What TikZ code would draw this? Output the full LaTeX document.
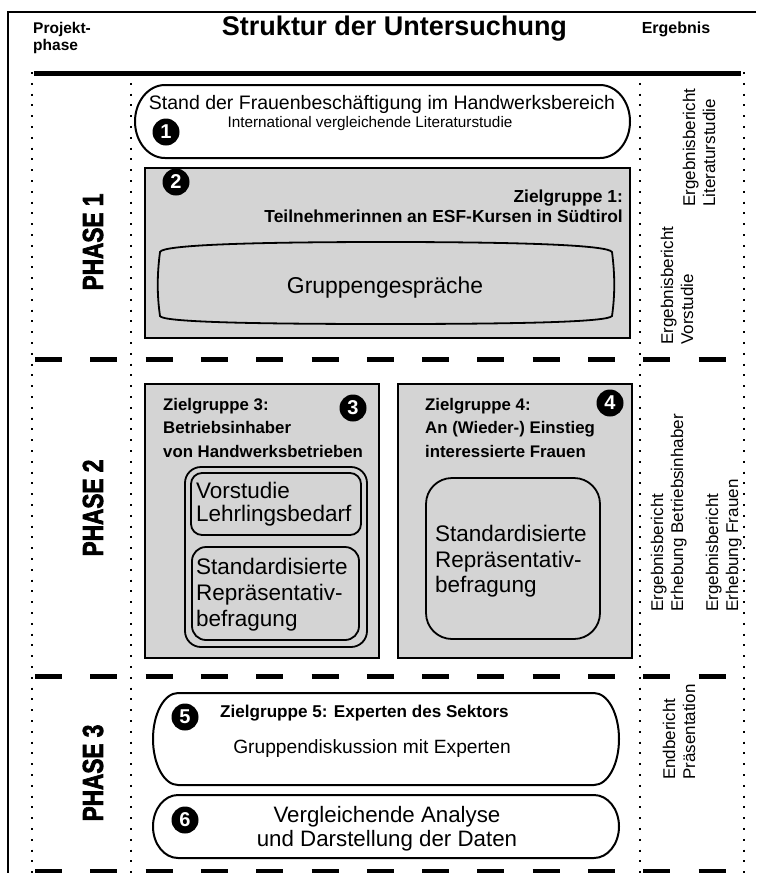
\documentclass[tikz,border=0pt]{standalone}
\usepackage{fontspec}
\setmainfont{Liberation Sans}
\newfontfamily\phasefont{Liberation Sans}[FakeStretch=0.78,FakeBold=2.2]
\newcommand\fsz[2]{\fontsize{#1}{#2}\selectfont}
\begin{document}
\begin{tikzpicture}[x=1pt,y=-1pt,
  frameline/.style={line width=2.5pt},
  dotline/.style={line width=2pt, dash pattern=on 2pt off 8.8pt},
  dashline/.style={line width=5pt, dash pattern=on 27pt off 28.3pt},
  graybox/.style={draw, line width=2pt, fill=black!17},
  whitebox/.style={draw, line width=2pt, fill=white},
  inbox/.style={draw, line width=1.8pt},
  num/.style={circle, fill=black, text=white, minimum size=27pt, inner sep=0pt, font=\bfseries\fsz{20}{20}},
  lbl/.style={inner sep=0pt, anchor=base},
  lblw/.style={inner sep=0pt, anchor=base west},
  lble/.style={inner sep=0pt, anchor=base east},
  rot/.style={inner sep=0pt, rotate=90, anchor=base west, font=\fsz{17}{20}},
  phaselbl/.style={inner sep=0pt, rotate=90, font=\phasefont\bfseries\fsz{29}{29}}
]
\useasboundingbox (0,0) rectangle (756,873);
\fill[white] (0,0) rectangle (756,873);

% frame
\draw[frameline] (756,12) -- (8,12) -- (8,873);

% header
\node[lblw, font=\bfseries\fsz{15.5}{17}] (hproj) at (33,33) {Projekt-};
\node[lblw, font=\bfseries\fsz{15.5}{17}] (hphase) at (33,50) {phase};
\node[lbl, font=\bfseries\fsz{27}{30}] (title) at (394.5,35) {Struktur der Untersuchung};
\node[lbl, font=\bfseries\fsz{16}{18}] (herg) at (676,33) {Ergebnis};

% dotted column lines
\draw[dotline] (32,72) -- (32,873);
\draw[dotline] (131,72) -- (131,873);
\draw[dotline] (640,72) -- (640,873);
\draw[dotline] (744,72) -- (744,873);

% thick line
\draw[line width=5pt] (34,73) -- (741,73);

% dashed phase separators
\draw[dashline] (35,359) -- (727,359);
\draw[dashline] (35,676) -- (727,676);
\draw[dashline] (35,871) -- (727,871);

% phase labels
\node[phaselbl] (ph1) at (93,242) {PHASE 1};
\node[phaselbl] (ph2) at (93,508) {PHASE 2};
\node[phaselbl] (ph3) at (93,773) {PHASE 3};

% ---- Box 1
\draw[whitebox] (165,85) -- (600,85) .. controls (616.57,85) and (630,101.34) .. (630,121.5)
  .. controls (630,141.66) and (616.57,158) .. (600,158) -- (165,158)
  .. controls (148.43,158) and (135,141.66) .. (135,121.5)
  .. controls (135,101.34) and (148.43,85) .. (165,85) -- cycle;
\node[lbl, font=\fsz{19.5}{22}] (b1a) at (382,109) {Stand der Frauenbesch\"aftigung im Handwerksbereich};
\node[lbl, font=\fsz{15.3}{17}] (b1b) at (370,127) {International vergleichende Literaturstudie};
\node[num] (n1) at (166,132) {1};

% ---- Box 2
\draw[graybox] (145,168) rectangle (630,338);
\node[num] (n2) at (176,182) {2};
\node[lble, font=\bfseries\fsz{17.4}{20}] (b2a) at (623,202) {Zielgruppe 1:};
\node[lble, font=\bfseries\fsz{17.4}{20}] (b2b) at (623,222) {Teilnehmerinnen an ESF-Kursen in S\"udtirol};
\draw[inbox] (160,252) .. controls (162,245) and (250,242) .. (386,242)
  .. controls (520,242) and (608,245) .. (612,252)
  .. controls (615,275) and (615,295) .. (612,316)
  .. controls (608,322) and (520,324) .. (386,324)
  .. controls (250,324) and (162,322) .. (160,316)
  .. controls (157,295) and (157,275) .. (160,252) -- cycle;
\node[lbl, font=\fsz{22.9}{26}] (b2c) at (385,293) {Gruppengespr\"ache};

% ---- Box 3
\draw[graybox] (145,384) rectangle (379,658);
\node[num] (n3) at (353,408) {3};
\node[lblw, font=\bfseries\fsz{16.8}{23}] (b3a) at (163,410) {Zielgruppe 3:};
\node[lblw, font=\bfseries\fsz{16.8}{23}] (b3b) at (163,433) {Betriebsinhaber};
\node[lblw, font=\bfseries\fsz{16.8}{23}] (b3c) at (163,457) {von Handwerksbetrieben};
\draw[inbox, rounded corners=16pt] (185,467) rectangle (367,647);
\draw[inbox, rounded corners=11pt] (191,473) rectangle (361,535);
\draw[inbox, rounded corners=14pt] (192,547) rectangle (359,640);
\node[lblw, font=\fsz{22.5}{25}] (b3d) at (196,498) {Vorstudie};
\node[lblw, font=\fsz{22.5}{25}] (b3e) at (196,521) {Lehrlingsbedarf};
\node[lblw, font=\fsz{22.5}{25}] (b3f) at (196,574) {Standardisierte};
\node[lblw, font=\fsz{22.5}{25}] (b3g) at (196,600) {Repr\"asentativ-};
\node[lblw, font=\fsz{22.5}{25}] (b3h) at (196,626) {befragung};

% ---- Box 4
\draw[graybox] (398,384) rectangle (632,658);
\node[num] (n4) at (610,403) {4};
\node[lblw, font=\bfseries\fsz{16.8}{23}] (b4a) at (425,410) {Zielgruppe 4:};
\node[lblw, font=\bfseries\fsz{16.8}{23}] (b4b) at (425,433) {An (Wieder-) Einstieg};
\node[lblw, font=\bfseries\fsz{16.8}{23}] (b4c) at (425,457) {interessierte Frauen};
\draw[inbox, rounded corners=26pt] (426,478) rectangle (600,639);
\node[lblw, font=\fsz{22.5}{25}] (b4d) at (435,541) {Standardisierte};
\node[lblw, font=\fsz{22.5}{25}] (b4e) at (435,567) {Repr\"asentativ-};
\node[lblw, font=\fsz{22.5}{25}] (b4f) at (435,592) {befragung};

% ---- Box 5
\draw[whitebox] (178,693) -- (594,693) .. controls (607.8,693) and (619,713.6) .. (619,739)
  .. controls (619,764.4) and (607.8,785) .. (594,785) -- (178,785)
  .. controls (164.2,785) and (153,764.4) .. (153,739)
  .. controls (153,713.6) and (164.2,693) .. (178,693) -- cycle;
\node[num] (n5) at (185,717) {5};
\node[lblw, font=\bfseries\fsz{17.1}{20}] (b5a) at (220,717) {Zielgruppe 5: Experten des Sektors};
\node[lbl, font=\fsz{19.2}{22}] (b5b) at (372,753) {Gruppendiskussion mit Experten};

% ---- Box 6
\draw[whitebox] (178,795) -- (594,795) .. controls (607.8,795) and (619,809.1) .. (619,826.5)
  .. controls (619,843.9) and (607.8,858) .. (594,858) -- (178,858)
  .. controls (164.2,858) and (153,843.9) .. (153,826.5)
  .. controls (153,809.1) and (164.2,795) .. (178,795) -- cycle;
\node[num] (n6) at (185,820) {6};
\node[lbl, font=\fsz{22.3}{24}] (b6a) at (387,822) {Vergleichende Analyse};
\node[lbl, font=\fsz{22.3}{24}] (b6b) at (387,846) {und Darstellung der Daten};

% ---- Result column
\node[rot] (r1a) at (695,207) {Ergebnisbericht};
\node[rot] (r1b) at (715,207) {Literaturstudie};
\node[rot] (r2a) at (673,345) {Ergebnisbericht};
\node[rot] (r2b) at (693,345) {Vorstudie};
\node[rot] (r3a) at (663,612) {Ergebnisbericht};
\node[rot] (r3b) at (683,612) {Erhebung Betriebsinhaber};
\node[rot] (r4a) at (718,612) {Ergebnisbericht};
\node[rot] (r4b) at (738,612) {Erhebung Frauen};
\node[rot] (r5a) at (675,780) {Endbericht};
\node[rot] (r5b) at (695,780) {Pr\"asentation};
\end{tikzpicture}
\end{document}
